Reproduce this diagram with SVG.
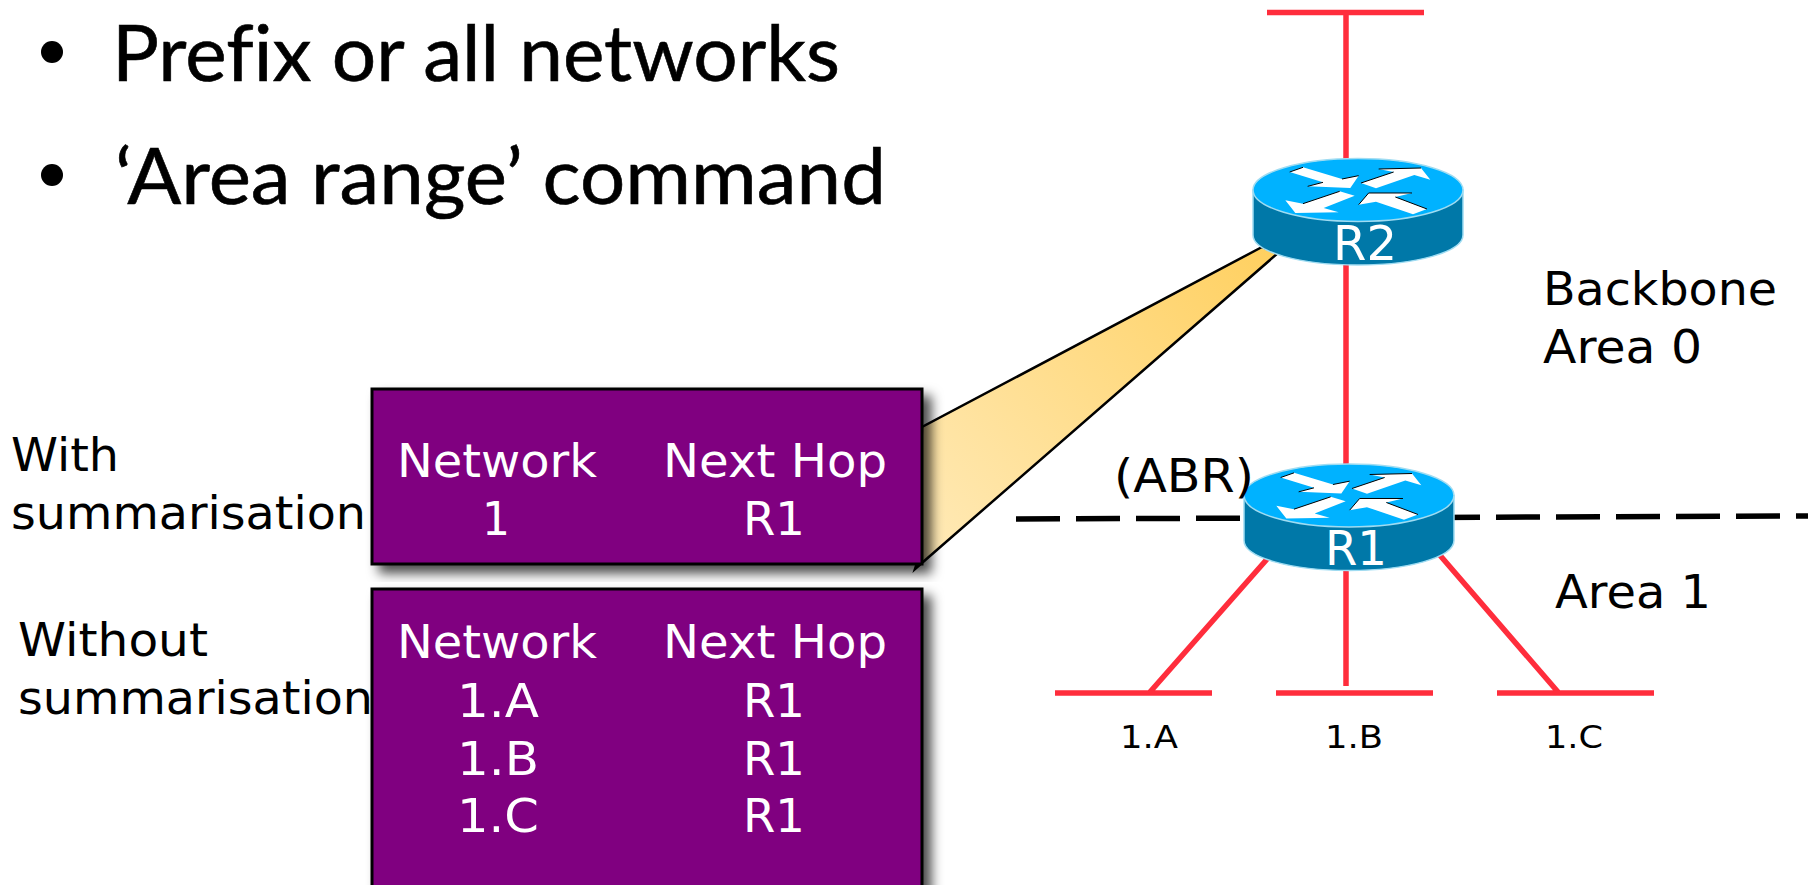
<svg xmlns="http://www.w3.org/2000/svg" width="1808" height="885" viewBox="0 0 1808 885">
<style>
.h{font-family:Lato,"Liberation Sans",sans-serif;font-size:77px;fill:#000;font-variant-ligatures:none;stroke:#000;stroke-width:.6}
.t{font-family:"DejaVu Sans","Liberation Sans",sans-serif;font-size:46px;fill:#000}
.w{font-family:"DejaVu Sans","Liberation Sans",sans-serif;font-size:47px;fill:#fff}
.s{font-family:"DejaVu Sans","Liberation Sans",sans-serif;font-size:32px;fill:#000}
.rl{font-family:"DejaVu Sans","Liberation Sans",sans-serif;font-size:48px;fill:#fff}
.red{stroke:#ff2d3c;stroke-width:5.5;fill:none}
.box{fill:#800080;stroke:#000;stroke-width:3;filter:url(#sh)}
</style>
<defs>
<filter id="sh" x="-5%" y="-5%" width="112%" height="115%"><feDropShadow dx="8" dy="8" stdDeviation="6" flood-color="#000" flood-opacity=".7"/></filter>
<linearGradient id="cg" gradientUnits="userSpaceOnUse" x1="922" y1="560" x2="1270" y2="250"><stop offset="0" stop-color="#ffeab8"/><stop offset="1" stop-color="#ffd060"/></linearGradient>
<g id="router">
<path d="M-105,-38 V7 C-105,24 -58,37 0,37 S105,24 105,7 V-38 Z" fill="#0078a8" stroke="#9fdcf2" stroke-width="1.5"/>
<ellipse cx="0" cy="-38" rx="105" ry="31.5" fill="#00b2ff" stroke="#9fdcf2" stroke-width="1.5"/>
<g transform="translate(0,-38) scale(.3333) translate(-383,-151)">
<g fill="#fff">
<polygon points="178,97 218,83 335,118 385,108 360,145 232,140 278,128"/>
<polygon points="392,130 490,97 445,88 572,85 600,120 552,106 437,146"/>
<polygon points="165,182 218,192 328,155 373,168 280,205 325,218 195,220"/>
<polygon points="385,195 415,160 545,160 495,172 590,208 548,224 437,186"/>
</g>
<g fill="none" stroke="#000" stroke-width="3">
<polyline points="178,97 218,83"/><polyline points="335,118 385,108"/>
<polyline points="232,140 278,128"/>
<polyline points="392,130 490,97"/><polyline points="445,88 572,85"/>
<polyline points="218,192 328,155"/>
<polyline points="385,195 415,160 545,160"/><polyline points="495,172 590,208"/>
</g>
</g>
</g>
</defs>
<rect width="1808" height="885" fill="#fff"/>
<g id="connectors">
<path class="red" d="M1267,12.500H1424M1346,12V480M1346,560V686M1268,558L1150,692M1438,553L1558,692M1055,693H1212M1276,693H1433M1497,693H1654"/>
<line x1="1016" y1="519" x2="1808" y2="516" stroke="#000" stroke-width="5.500" stroke-dasharray="44 16"/>
</g>
<g id="bullets">
<circle cx="52" cy="52" r="11" fill="#000"/>
<circle cx="52" cy="175" r="11" fill="#000"/>
<text class="h" x="112" y="81" textLength="728" lengthAdjust="spacingAndGlyphs">Prefix or all networks</text>
<text class="h" x="115" y="204" textLength="771" lengthAdjust="spacingAndGlyphs">‘Area range’ command</text>
</g>
<g id="callout"><polygon points="915,569 1278,253 1262,247 922,427 918,560" fill="url(#cg)" stroke="#000" stroke-width="2.500"/></g>
<g id="router-r2"><use href="#router" x="1358" y="228"/><text class="rl" x="1365" y="260" text-anchor="middle" textLength="64" lengthAdjust="spacingAndGlyphs">R2</text></g>
<g id="router-r1"><use href="#router" x="1349" y="533.500"/><text class="rl" x="1356" y="565" text-anchor="middle" textLength="62" lengthAdjust="spacingAndGlyphs">R1</text></g>
<g id="table-with">
<rect class="box" x="372" y="389" width="550" height="175"/>
<text class="w" x="397" y="477" textLength="200" lengthAdjust="spacingAndGlyphs">Network</text>
<text class="w" x="663" y="477" textLength="224" lengthAdjust="spacingAndGlyphs">Next Hop</text>
<text class="w" x="482" y="535" textLength="28" lengthAdjust="spacingAndGlyphs">1</text>
<text class="w" x="743" y="535" textLength="62" lengthAdjust="spacingAndGlyphs">R1</text>
</g>
<g id="table-without">
<rect class="box" x="372" y="589" width="550" height="310"/>
<text class="w" x="397" y="658" textLength="200" lengthAdjust="spacingAndGlyphs">Network</text>
<text class="w" x="663" y="658" textLength="224" lengthAdjust="spacingAndGlyphs">Next Hop</text>
<text class="w" x="457" y="717" textLength="82" lengthAdjust="spacingAndGlyphs">1.A</text><text class="w" x="743" y="717" textLength="62" lengthAdjust="spacingAndGlyphs">R1</text>
<text class="w" x="457" y="775" textLength="82" lengthAdjust="spacingAndGlyphs">1.B</text><text class="w" x="743" y="775" textLength="62" lengthAdjust="spacingAndGlyphs">R1</text>
<text class="w" x="457" y="832" textLength="82" lengthAdjust="spacingAndGlyphs">1.C</text><text class="w" x="743" y="832" textLength="62" lengthAdjust="spacingAndGlyphs">R1</text>
</g>
<g id="labels">
<text class="t" x="11" y="471" textLength="108" lengthAdjust="spacingAndGlyphs">With</text>
<text class="t" x="11" y="529" textLength="355" lengthAdjust="spacingAndGlyphs">summarisation</text>
<text class="t" x="18" y="656" textLength="190" lengthAdjust="spacingAndGlyphs">Without</text>
<text class="t" x="18" y="714" textLength="355" lengthAdjust="spacingAndGlyphs">summarisation</text>
<text class="t" x="1543" y="305" textLength="234" lengthAdjust="spacingAndGlyphs">Backbone</text>
<text class="t" x="1543" y="363" textLength="159" lengthAdjust="spacingAndGlyphs">Area 0</text>
<text class="t" x="1555" y="608" textLength="156" lengthAdjust="spacingAndGlyphs">Area 1</text>
<text class="t" x="1114" y="492" textLength="140" lengthAdjust="spacingAndGlyphs">(ABR)</text>
<text class="s" x="1120" y="748" textLength="58" lengthAdjust="spacingAndGlyphs">1.A</text>
<text class="s" x="1325" y="748" textLength="58" lengthAdjust="spacingAndGlyphs">1.B</text>
<text class="s" x="1545" y="748" textLength="58" lengthAdjust="spacingAndGlyphs">1.C</text>
</g>
</svg>
